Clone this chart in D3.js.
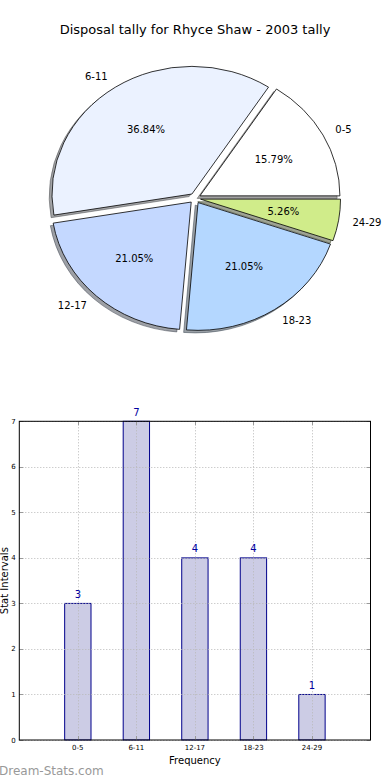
<!DOCTYPE html>
<html>
<head>
<meta charset="utf-8">
<script src="https://cdn.jsdelivr.net/npm/d3@7"></script>
<style>
  html, body { margin: 0; padding: 0; background: #fff; }
  svg { display: block; font-family: "DejaVu Sans", sans-serif; }
</style>
</head>
<body>
<svg id="chart" width="390" height="780"></svg>
<script>
const title = "Disposal tally for Rhyce Shaw - 2003 tally";
const categories = ["0-5", "6-11", "12-17", "18-23", "24-29"];
const values = [3, 7, 4, 4, 1];
const pieColors = ["#ffffff", "#ebf2ff", "#c4d8ff", "#b4d7ff", "#d0ec8a"];
const yTicks = [0, 1, 2, 3, 4, 5, 6, 7];
const xLabel = "Frequency";
const yLabel = "Stat Intervals";
const watermark = "Dream-Stats.com";

(function () {
const svg = d3.select("#chart");

svg.append("text").attr("x", 195).attr("y", 34).attr("text-anchor", "middle")
  .attr("font-size", 13).attr("fill", "#000").text(title);

// ---------- PIE ----------
const cx = 195, cy = 198.3, rx = 140, ry = 127.7;
const explode = 0.04, labelDist = 1.1, pctDist = 0.6;
const total = d3.sum(values);
let acc = 0;
const wedges = values.map((v, i) => {
  const t1 = acc / total * 2 * Math.PI;
  acc += v;
  const t2 = acc / total * 2 * Math.PI;
  const tm = (t1 + t2) / 2;
  return { i, v, t1, t2, tm };
});
const arc = d3.arc().innerRadius(0).outerRadius(1);
const pieG = svg.append("g").attr("transform", `translate(${cx},${cy}) scale(${rx},${ry})`);

function wedgePath(w) {
  return arc({ startAngle: Math.PI / 2 - w.t2, endAngle: Math.PI / 2 - w.t1 });
}
function shadowColor(d) {
  const c = d3.rgb(pieColors[d.i]);
  return `rgb(${c.r * 0.3},${c.g * 0.3},${c.b * 0.3})`;
}
pieG.selectAll("path.shadow").data(wedges).join("path")
  .attr("class", "shadow")
  .attr("transform", w => `translate(${explode * Math.cos(w.tm) - 0.02},${-explode * Math.sin(w.tm) + 0.02})`)
  .attr("d", wedgePath)
  .attr("fill", shadowColor)
  .attr("fill-opacity", 0.5)
  .attr("stroke", shadowColor)
  .attr("stroke-opacity", 0.5)
  .attr("stroke-width", 1)
  .attr("vector-effect", "non-scaling-stroke");
pieG.selectAll("path.wedge").data(wedges).join("path")
  .attr("class", "wedge")
  .attr("transform", w => `translate(${explode * Math.cos(w.tm)},${-explode * Math.sin(w.tm)})`)
  .attr("d", wedgePath)
  .attr("fill", d => pieColors[d.i])
  .attr("stroke", "#000")
  .attr("stroke-width", 0.8)
  .attr("vector-effect", "non-scaling-stroke");

wedges.forEach(w => {
  const c = Math.cos(w.tm), s = Math.sin(w.tm);
  const lx = cx + (explode + labelDist) * rx * c;
  const ly = cy - (explode + labelDist) * ry * s;
  svg.append("text").attr("x", lx).attr("y", ly).attr("dy", "0.36em")
    .attr("text-anchor", c > 0 ? "start" : "end")
    .attr("font-size", 10).attr("fill", "#000").text(categories[w.i]);
  const px = cx + (explode + pctDist) * rx * c;
  const py = cy - (explode + pctDist) * ry * s;
  svg.append("text").attr("x", px).attr("y", py).attr("dy", "0.36em")
    .attr("text-anchor", "middle")
    .attr("font-size", 10).attr("fill", "#000")
    .text((w.v / total * 100).toFixed(2) + "%");
});

// ---------- BAR ----------
const pL = 19.3, pR = 370.5, pT = 421.3, pB = 740;
const x = d3.scaleLinear().domain([-1, categories.length]).range([pL, pR]);
const y = d3.scaleLinear().domain([0, 7]).range([pB, pT]);
const barW = 0.45;

svg.append("g").selectAll("rect.bar").data(values).join("rect")
  .attr("class", "bar")
  .attr("x", (d, i) => x(i - barW / 2))
  .attr("width", x(barW) - x(0))
  .attr("y", d => y(d))
  .attr("height", d => y(0) - y(d))
  .attr("fill", "#ccccE5")
  .attr("stroke", "#00008b")
  .attr("stroke-width", 1);

const gridG = svg.append("g").attr("stroke", "#b8b8b8").attr("stroke-width", 1).attr("stroke-dasharray", "1,2");
gridG.selectAll("line.h").data(yTicks).join("line")
  .attr("x1", pL).attr("x2", pR)
  .attr("y1", d => Math.round(y(d)) + 0.5).attr("y2", d => Math.round(y(d)) + 0.5);
gridG.selectAll("line.v").data(categories).join("line")
  .attr("x1", (d, i) => Math.round(x(i)) + 0.5).attr("x2", (d, i) => Math.round(x(i)) + 0.5)
  .attr("y1", pT).attr("y2", pB);

const tickG = svg.append("g").attr("stroke", "#999").attr("stroke-width", 1);
yTicks.forEach(t => {
  const yy = Math.round(y(t)) + 0.5;
  tickG.append("line").attr("x1", pL).attr("x2", pL + 4).attr("y1", yy).attr("y2", yy);
  tickG.append("line").attr("x1", pR - 4).attr("x2", pR).attr("y1", yy).attr("y2", yy);
});
categories.forEach((c, i) => {
  const xx = Math.round(x(i)) + 0.5;
  tickG.append("line").attr("x1", xx).attr("x2", xx).attr("y1", pT).attr("y2", pT + 4);
  tickG.append("line").attr("x1", xx).attr("x2", xx).attr("y1", pB - 4).attr("y2", pB);
});

svg.append("rect").attr("x", pL).attr("y", pT).attr("width", pR - pL).attr("height", pB - pT)
  .attr("fill", "none").attr("stroke", "#000").attr("stroke-width", 1);

svg.append("g").selectAll("text").data(yTicks).join("text")
  .attr("x", pL - 3.5).attr("y", d => y(d)).attr("dy", "0.36em")
  .attr("text-anchor", "end").attr("font-size", 7).attr("fill", "#000").text(d => d);
svg.append("g").selectAll("text").data(categories).join("text")
  .attr("x", (d, i) => x(i)).attr("y", pB + 10)
  .attr("text-anchor", "middle").attr("font-size", 7).attr("fill", "#000").text(d => d);

svg.append("g").selectAll("text").data(values).join("text")
  .attr("x", (d, i) => x(i)).attr("y", d => y(d) - 5.5)
  .attr("text-anchor", "middle").attr("font-size", 10).attr("fill", "#0000a0").text(d => d);

svg.append("text").attr("x", (pL + pR) / 2).attr("y", 764).attr("text-anchor", "middle")
  .attr("font-size", 10).attr("fill", "#000").text(xLabel);
svg.append("text").attr("transform", `translate(7.5,${(pT + pB) / 2}) rotate(-90)`)
  .attr("text-anchor", "middle").attr("font-size", 10).attr("fill", "#000").text(yLabel);

svg.append("text").attr("x", -1).attr("y", 775).attr("font-size", 12)
  .attr("fill", "#999").text(watermark);
})();
</script>
</body>
</html>
